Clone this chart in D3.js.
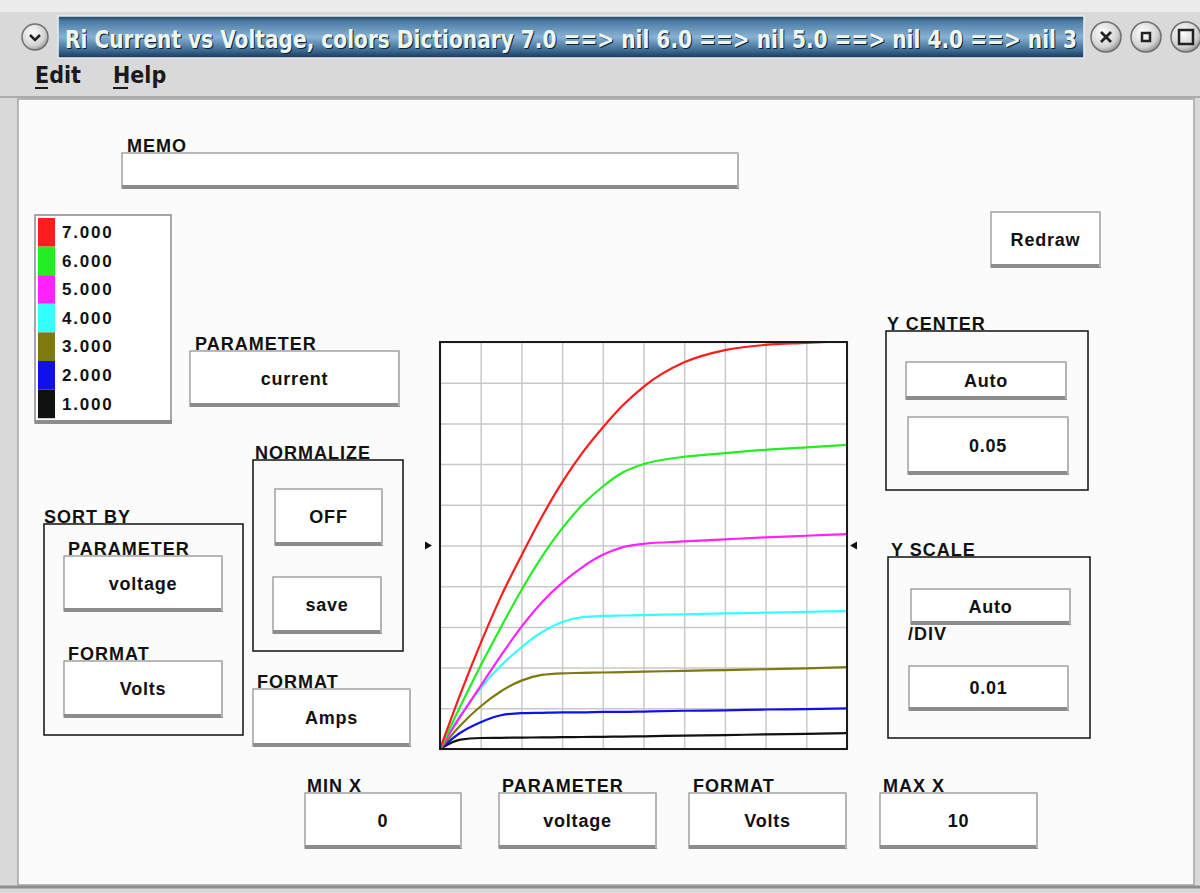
<!DOCTYPE html>
<html>
<head>
<meta charset="utf-8">
<script src="https://cdn.jsdelivr.net/npm/d3@7"></script>
<style>
  body { margin: 0; background: #dcdcdc; }
  svg { display: block; font-family: "Liberation Sans", Arial, sans-serif; }
</style>
</head>
<body>
<svg id="win" width="1200" height="893"></svg>
<script>
// ---- chart data ----
var gateLabels = ["7.000", "6.000", "5.000", "4.000", "3.000", "2.000", "1.000"];
var lineColors = ["#ff1c1c", "#22ee22", "#ff22ff", "#33ffff", "#7d7a10", "#1010ee", "#111111"];
var voltage = [0, 0.5, 1, 1.5, 2, 2.5, 3, 3.5, 4, 4.5, 5, 6, 7, 8, 9, 10];
var current7 = [0, 0.0135, 0.026, 0.0375, 0.0475, 0.057, 0.0655, 0.0728, 0.079, 0.0845, 0.089, 0.095, 0.098, 0.0993, 0.0998, 0.1003];
var current6 = [0, 0.0105, 0.0205, 0.030, 0.039, 0.0472, 0.0542, 0.060, 0.0645, 0.068, 0.070, 0.0718, 0.0727, 0.0735, 0.0741, 0.0747];
var current5 = [0, 0.008, 0.0155, 0.023, 0.030, 0.036, 0.0408, 0.0447, 0.0477, 0.0496, 0.0504, 0.051, 0.0515, 0.052, 0.0524, 0.0528];
var current4 = [0, 0.0082, 0.015, 0.0205, 0.025, 0.0287, 0.0312, 0.0324, 0.0327, 0.0328, 0.0329, 0.0331, 0.0333, 0.0335, 0.0337, 0.0339];
var current3 = [0, 0.0058, 0.0105, 0.0142, 0.0168, 0.0182, 0.0186, 0.0187, 0.0188, 0.0189, 0.019, 0.0192, 0.0194, 0.0196, 0.0198, 0.0201];
var current2 = [0, 0.004, 0.0066, 0.0083, 0.0088, 0.0089, 0.009, 0.009, 0.0091, 0.0091, 0.0092, 0.0094, 0.0095, 0.0097, 0.0098, 0.010];
var current1 = [0, 0.0023, 0.0027, 0.00275, 0.0028, 0.00285, 0.0029, 0.00295, 0.003, 0.00305, 0.0031, 0.0033, 0.0034, 0.0036, 0.0037, 0.0039];
var currents = [current7, current6, current5, current4, current3, current2, current1];

var minX = 0, maxX = 10;
var yCenter = 0.05, yPerDiv = 0.01;
var titleText = "Ri Current vs Voltage,  colors Dictionary 7.0 ==> nil 6.0 ==> nil 5.0 ==> nil 4.0 ==> nil 3";

// ---- layout ----
var svg = d3.select("#win");
var plotLeft = 440, plotTop = 342, plotSize = 407;
var labelFont = 18;

var defs = svg.append("defs");
var tg = defs.append("linearGradient").attr("id", "titleGrad")
  .attr("x1", 0).attr("y1", 0).attr("x2", 0).attr("y2", 1);
[["0%", "#1f3f60"], ["12%", "#4a7aa3"], ["50%", "#88b1d2"], ["82%", "#3d6a92"], ["100%", "#1b3756"]].forEach(function(s){
  tg.append("stop").attr("offset", s[0]).attr("stop-color", s[1]);
});
var bg = defs.append("radialGradient").attr("id", "knob").attr("cx", "40%").attr("cy", "35%").attr("r", "70%");
bg.append("stop").attr("offset", "0%").attr("stop-color", "#ffffff");
bg.append("stop").attr("offset", "70%").attr("stop-color", "#d2d2d2");
bg.append("stop").attr("offset", "100%").attr("stop-color", "#8a8a8a");
defs.append("clipPath").attr("id", "plotClip")
  .append("rect").attr("x", plotLeft).attr("y", plotTop).attr("width", plotSize).attr("height", plotSize);

// window chrome
svg.append("rect").attr("width", 1200).attr("height", 893).attr("fill", "#d9d9d9");
svg.append("rect").attr("width", 1200).attr("height", 12).attr("fill", "#ececec");
svg.append("rect")
  .attr("x", 58).attr("y", 16).attr("width", 1026).attr("height", 42)
  .attr("fill", "url(#titleGrad)")
  .attr("stroke", "#e6eef5").attr("stroke-width", 1.5);
var titleFont = "'DejaVu Sans Condensed', 'Liberation Sans Narrow', 'Liberation Sans', sans-serif";
svg.append("text")
  .attr("x", 65).attr("y", 48)
  .attr("font-family", titleFont).attr("font-size", 25).attr("font-weight", "bold")
  .attr("fill", "#102030")
  .attr("textLength", 1012).attr("lengthAdjust", "spacingAndGlyphs")
  .attr("transform", "translate(1,1)")
  .text(titleText);
svg.append("text")
  .attr("x", 65).attr("y", 48)
  .attr("font-family", titleFont).attr("font-size", 25).attr("font-weight", "bold")
  .attr("fill", "#eef6f0")
  .attr("textLength", 1012).attr("lengthAdjust", "spacingAndGlyphs")
  .text(titleText);

function knob(cx, cy, r, sym){
  var g = svg.append("g").attr("transform", "translate(" + cx + "," + cy + ")");
  g.append("circle").attr("r", r).attr("fill", "url(#knob)").attr("stroke", "#6f6f6f").attr("stroke-width", 1.5);
  if(sym == "down"){
    g.append("path").attr("d", "M-5,-2L0,3L5,-2").attr("fill", "none").attr("stroke", "#222").attr("stroke-width", 2.5);
  }else if(sym == "x"){
    g.append("path").attr("d", "M-5,-5L5,5M5,-5L-5,5").attr("stroke", "#222").attr("stroke-width", 2.8);
  }else if(sym == "min"){
    g.append("rect").attr("x", -4).attr("y", -4).attr("width", 8).attr("height", 8).attr("fill", "none").attr("stroke", "#222").attr("stroke-width", 2.5);
  }else{
    g.append("rect").attr("x", -7).attr("y", -7).attr("width", 14).attr("height", 14).attr("fill", "none").attr("stroke", "#222").attr("stroke-width", 2.5);
  }
}
knob(35, 37, 13, "down");
knob(1106, 37, 15, "x");
knob(1146, 37, 15, "min");
knob(1186, 37, 15, "max");

// menu bar
[["Edit", 35, 13], ["Help", 113, 15]].forEach(function(m){
  svg.append("text").attr("x", m[1]).attr("y", 83)
    .attr("font-family", titleFont).attr("font-size", 23).attr("font-weight", "bold")
    .attr("fill", "#1a1a1a").text(m[0]);
  svg.append("line").attr("x1", m[1]).attr("x2", m[1] + m[2]).attr("y1", 88).attr("y2", 88)
    .attr("stroke", "#1a1a1a").attr("stroke-width", 2);
});
svg.append("line").attr("x1", 0).attr("x2", 1200).attr("y1", 97).attr("y2", 97).attr("stroke", "#9c9c9c").attr("stroke-width", 1.5);

// main panel
svg.append("rect")
  .attr("x", 18).attr("y", 99).attr("width", 1176).attr("height", 786)
  .attr("fill", "#fbfbfb").attr("stroke", "#a5a5a5").attr("stroke-width", 1.5);
svg.append("line").attr("x1", 0).attr("x2", 1200).attr("y1", 887).attr("y2", 887).attr("stroke", "#8e8e8e").attr("stroke-width", 3);

// ---- widget helpers ----
function label(x, y, txt){
  svg.append("text").attr("x", x).attr("y", y)
    .attr("font-size", labelFont).attr("font-weight", "bold")
    .attr("letter-spacing", 1)
    .attr("fill", "#111").text(txt);
}
function button(x, y, w, h, txt){
  svg.append("rect").attr("x", x).attr("y", y).attr("width", w).attr("height", h)
    .attr("fill", "#fff").attr("stroke", "#8a8a8a").attr("stroke-width", 1.2);
  svg.append("rect").attr("x", x).attr("y", y + h - 3).attr("width", w + 1).attr("height", 4)
    .attr("fill", "#8c8c8c");
  svg.append("rect").attr("x", x + w - 1).attr("y", y).attr("width", 2).attr("height", h)
    .attr("fill", "#b4b4b4");
  if(txt){
    svg.append("text").attr("x", x + w / 2).attr("y", y + h / 2 + 6)
      .attr("text-anchor", "middle")
      .attr("font-size", 18).attr("font-weight", "bold").attr("letter-spacing", 0.8)
      .attr("fill", "#111").text(txt);
  }
}
function group(x, y, w, h){
  svg.append("rect").attr("x", x).attr("y", y).attr("width", w).attr("height", h)
    .attr("fill", "none").attr("stroke", "#111").attr("stroke-width", 1.5);
}

// memo
label(127, 152, "MEMO");
button(122, 153, 616, 35, "");

// redraw
button(991, 212, 109, 55, "Redraw");

// parameter (y)
label(195, 350, "PARAMETER");
button(190, 351, 209, 55, "current");

// normalize
label(255, 459, "NORMALIZE");
group(253, 460, 150, 191);
button(275, 489, 107, 56, "OFF");
button(273, 577, 108, 56, "save");

// sort by
label(44, 523, "SORT BY");
group(44, 524, 199, 211);
label(68, 555, "PARAMETER");
button(64, 556, 158, 55, "voltage");
label(68, 660, "FORMAT");
button(64, 661, 158, 56, "Volts");

// format (y)
label(257, 688, "FORMAT");
button(253, 689, 157, 57, "Amps");

// y center
label(887, 330, "Y CENTER");
group(886, 331, 202, 159);
button(906, 362, 160, 37, "Auto");
button(908, 417, 160, 57, String(yCenter));

// y scale
label(891, 556, "Y SCALE");
group(888, 557, 202, 181);
button(911, 589, 159, 35, "Auto");
label(908, 640, "/DIV");
button(909, 666, 159, 44, String(yPerDiv));

// x controls
label(307, 792, "MIN X");
button(305, 793, 156, 55, String(minX));
label(502, 792, "PARAMETER");
button(499, 793, 157, 55, "voltage");
label(693, 792, "FORMAT");
button(689, 793, 157, 55, "Volts");
label(883, 792, "MAX X");
button(880, 793, 157, 55, String(maxX));

// ---- legend ----
var legendX = 35, legendY = 215, legendRow = 28.6;
svg.append("rect").attr("x", legendX).attr("y", legendY).attr("width", 136).attr("height", 208)
  .attr("fill", "#fff").attr("stroke", "#8a8a8a").attr("stroke-width", 1.5);
svg.append("rect").attr("x", legendX).attr("y", legendY + 205).attr("width", 137).attr("height", 4).attr("fill", "#8c8c8c");
var leg = svg.append("g").selectAll("g").data(gateLabels).enter().append("g")
  .attr("transform", function(d, i){ return "translate(" + (legendX + 3) + "," + (legendY + 3 + i * legendRow) + ")"; });
leg.append("rect").attr("width", 17).attr("height", legendRow)
  .attr("fill", function(d, i){ return lineColors[i]; });
leg.append("text").attr("x", 24).attr("y", 20)
  .attr("font-size", 17).attr("font-weight", "bold").attr("letter-spacing", 1.8)
  .attr("fill", "#111").text(function(d){ return d; });

// ---- plot ----
var xScale = d3.scaleLinear().domain([minX, maxX]).range([plotLeft, plotLeft + plotSize]);
var yScale = d3.scaleLinear().domain([yCenter - 5 * yPerDiv, yCenter + 5 * yPerDiv]).range([plotTop + plotSize, plotTop]);

svg.append("rect").attr("x", plotLeft).attr("y", plotTop).attr("width", plotSize).attr("height", plotSize).attr("fill", "#fff");

var xGrid = svg.append("g").attr("transform", "translate(0," + (plotTop + plotSize) + ")")
  .call(d3.axisBottom(xScale).ticks(10).tickSize(-plotSize).tickFormat(""));
var yGrid = svg.append("g").attr("transform", "translate(" + plotLeft + ",0)")
  .call(d3.axisLeft(yScale).ticks(10).tickSize(-plotSize).tickFormat(""));
[xGrid, yGrid].forEach(function(g){
  g.select(".domain").remove();
  g.selectAll("line").attr("stroke", "#c9c9c9").attr("stroke-width", 1.5);
});

var line = d3.line()
  .x(function(d){ return xScale(d[0]); })
  .y(function(d){ return yScale(d[1]); })
  .curve(d3.curveMonotoneX);

svg.append("g").attr("clip-path", "url(#plotClip)")
  .selectAll("path").data(currents.slice().reverse()).enter().append("path")
  .attr("d", function(series){ return line(voltage.map(function(v, k){ return [v, series[k]]; })); })
  .attr("fill", "none")
  .attr("stroke", function(d, i){ return lineColors[currents.length - 1 - i]; })
  .attr("stroke-width", 2.2);

svg.append("rect").attr("x", plotLeft).attr("y", plotTop).attr("width", plotSize).attr("height", plotSize)
  .attr("fill", "none").attr("stroke", "#1a1a1a").attr("stroke-width", 2);

// center markers
var cy = yScale(yCenter);
svg.append("path").attr("d", "M" + (plotLeft - 15) + "," + (cy - 4) + "L" + (plotLeft - 8) + "," + cy + "L" + (plotLeft - 15) + "," + (cy + 4) + "Z").attr("fill", "#111");
svg.append("path").attr("d", "M" + (plotLeft + plotSize + 10) + "," + (cy - 4) + "L" + (plotLeft + plotSize + 3) + "," + cy + "L" + (plotLeft + plotSize + 10) + "," + (cy + 4) + "Z").attr("fill", "#111");
</script>
</body>
</html>
